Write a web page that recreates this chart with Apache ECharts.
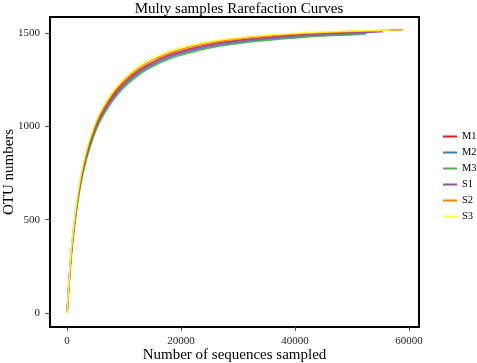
<!DOCTYPE html>
<html>
<head>
<meta charset="utf-8">
<script src="https://cdn.jsdelivr.net/npm/echarts@6/dist/echarts.min.js"></script>
<style>
  html, body { margin: 0; padding: 0; background: #fff; }
  #chart { width: 477px; height: 363px; }
</style>
</head>
<body>
<div id="chart"></div>
<script>
// sample names + colours (ggplot Set1)
const samples = ['M1', 'M2', 'M3', 'S1', 'S2', 'S3'];
const colors = ['#E41A1C', '#377EB8', '#4DAF4A', '#984EA3', '#FF7F00', '#FFFF33'];

// shared sequencing depths, last point of each curve is its own end depth
const depths = [0, 500, 1000, 2000, 3000, 4000, 5000, 6000, 8000, 10000, 12500,
  15000, 17500, 20000, 25000, 30000, 35000, 40000, 45000, 50000];
const endDepths = [54000, 52600, 52200, 55400, 58900, 56700];

// OTU numbers
const m1 = [0, 235, 406, 645, 804, 913, 1001, 1066, 1164, 1234, 1298, 1343, 1378, 1403, 1439, 1461, 1476, 1488, 1496, 1502, 1508];
const m2 = [0, 226, 394, 630, 787, 896, 984, 1049, 1147, 1218, 1283, 1329, 1364, 1390, 1427, 1450, 1466, 1478, 1487, 1493, 1498];
const m3 = [0, 220, 386, 621, 777, 886, 974, 1039, 1137, 1209, 1274, 1321, 1356, 1382, 1420, 1444, 1461, 1474, 1484, 1491, 1495];
const s1 = [0, 230, 400, 638, 796, 905, 993, 1058, 1156, 1227, 1291, 1337, 1372, 1397, 1434, 1457, 1472, 1485, 1494, 1501, 1507];
const s2 = [0, 240, 414, 655, 815, 925, 1013, 1078, 1176, 1246, 1310, 1355, 1389, 1413, 1448, 1469, 1484, 1495, 1503, 1509, 1518];
const s3 = [0, 248, 424, 665, 826, 936, 1024, 1089, 1187, 1257, 1320, 1364, 1398, 1422, 1455, 1475, 1489, 1499, 1506, 1511, 1515];
const otus = [m1, m2, m3, s1, s2, s3];

const xTicks = [0, 20000, 40000, 60000];
const yTicks = [0, 500, 1000, 1500];

const font = 'Liberation Serif';
const chart = echarts.init(document.getElementById('chart'));

const series = samples.map((name, i) => {
  const xs = depths.concat([endDepths[i]]);
  return {
    name: name,
    type: 'line',
    smooth: true,
    symbol: 'none',
    data: otus[i].map((v, k) => [xs[k], v]),
    lineStyle: { width: 1.6, color: colors[i], opacity: 0.9 },
    itemStyle: { color: colors[i] }
  };
});

const option = {
  animation: false,
  title: {
    text: 'Multy samples Rarefaction Curves',
    left: 234, top: -3, textAlign: 'center',
    textStyle: { fontFamily: font, fontSize: 15, fontWeight: 'normal', color: '#000' }
  },
  legend: {
    data: samples,
    orient: 'vertical',
    left: 443, top: 130,
    padding: 0,
    icon: 'rect',
    itemWidth: 14, itemHeight: 2, itemGap: 3,
    textStyle: { fontFamily: font, fontSize: 10.5, color: '#000', lineHeight: 13 }
  },
  grid: {
    left: 50, right: 58, top: 17, bottom: 36,
    containLabel: false,
    outerBoundsMode: 'none',
    show: true, borderColor: '#000', borderWidth: 2
  },
  xAxis: {
    type: 'value',
    min: -3000, max: 61750,
    name: 'Number of sequences sampled',
    nameLocation: 'middle', nameGap: 21,
    nameMoveOverlap: false,
    nameTextStyle: { fontFamily: font, fontSize: 15, color: '#000' },
    splitLine: { show: false },
    axisLine: { show: true, onZero: false, lineStyle: { color: '#000', width: 2 } },
    axisTick: { show: true, length: 4, customValues: xTicks, lineStyle: { color: '#555' } },
    axisLabel: { customValues: xTicks, margin: 9, fontFamily: font, fontSize: 11, color: '#222', formatter: v => String(v) }
  },
  yAxis: {
    type: 'value',
    min: -75, max: 1586,
    name: 'OTU numbers',
    nameLocation: 'middle', nameGap: 33,
    nameMoveOverlap: false,
    nameTextStyle: { fontFamily: font, fontSize: 15, color: '#000' },
    splitLine: { show: false },
    axisLine: { show: true, onZero: false, lineStyle: { color: '#000', width: 2 } },
    axisTick: { show: true, length: 5, customValues: yTicks, lineStyle: { color: '#555' } },
    axisLabel: { customValues: yTicks, margin: 10, fontFamily: font, fontSize: 11, color: '#222', formatter: v => String(v) }
  },
  series: series
};

chart.setOption(option);
</script>
</body>
</html>
